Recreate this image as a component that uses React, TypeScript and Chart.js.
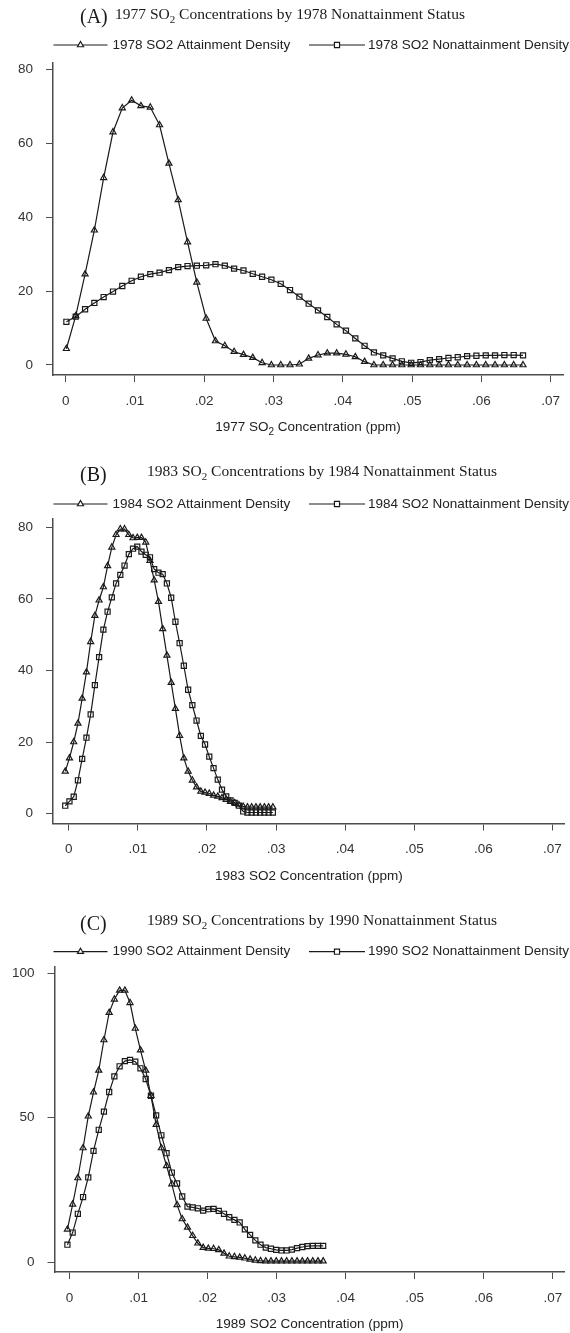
import React, { useEffect, useRef } from 'react';
import { Chart, registerables } from 'chart.js';

Chart.register(...registerables);

const SANS = '"Liberation Sans", Arial, Helvetica, sans-serif';
const SERIF = '"Liberation Serif", "Times New Roman", serif';
const INK = '#1a1a1a';
const AXIS = '#4d4d4d';

// ---- tick values / labels ----
const X_TICKS = [0, 0.01, 0.02, 0.03, 0.04, 0.05, 0.06, 0.07];
const X_TICK_LABELS = ['0', '.01', '.02', '.03', '.04', '.05', '.06', '.07'];
const Y_TICKS_AB = [0, 20, 40, 60, 80];
const Y_TICKS_C = [0, 50, 100];

// ---- Panel A: 1977 concentrations by 1978 status ----
const xA = [
  0.0001, 0.00145, 0.0028, 0.00414, 0.00548, 0.00683, 0.00817, 0.00952, 0.01086, 0.01221,
  0.01355, 0.0149, 0.01624, 0.01759, 0.01893, 0.02028, 0.02162, 0.02297, 0.02431, 0.02566,
  0.027, 0.02835, 0.02969, 0.03104, 0.03238, 0.03373, 0.03507, 0.03642, 0.03776, 0.03911,
  0.04045, 0.0418, 0.04314, 0.04449, 0.04583, 0.04718, 0.04852, 0.04987, 0.05121, 0.05256,
  0.0539, 0.05525, 0.05659, 0.05794, 0.05928, 0.06063, 0.06197, 0.06332, 0.06466, 0.06601,
];
const attainA = [
  4.4, 13.3, 24.6, 36.5, 50.7, 63.1, 69.6, 71.7, 70.2, 69.8,
  65.0, 54.6, 44.7, 33.3, 22.4, 12.6, 6.5, 5.2, 3.6, 2.8,
  2.0, 0.6, 0, 0, 0, 0.2, 1.8, 2.7, 3.2, 3.2,
  2.9, 2.2, 0.9, 0, 0, 0, 0, 0, 0, 0,
  0, 0, 0, 0, 0, 0, 0, 0, 0, 0,
];
const nonattainA = [
  11.7, 13.1, 15.1, 16.8, 18.4, 19.9, 21.4, 22.8, 23.9, 24.6,
  25.0, 25.7, 26.5, 26.8, 26.9, 27.0, 27.3, 26.9, 26.1, 25.6,
  24.7, 23.9, 23.1, 22.0, 20.3, 18.5, 16.6, 14.8, 13.0, 11.0,
  9.3, 7.2, 5.2, 3.4, 2.6, 1.8, 1.0, 0.6, 0.8, 1.3,
  1.6, 1.9, 2.1, 2.4, 2.5, 2.6, 2.6, 2.7, 2.7, 2.6,
];

// ---- Panel B: 1983 concentrations by 1984 status ----
const xB = [
  -0.0005, 0.00011, 0.00073, 0.00134, 0.00195, 0.00257, 0.00318, 0.00379, 0.0044, 0.00502,
  0.00563, 0.00624, 0.00686, 0.00747, 0.00808, 0.0087, 0.00931, 0.00992, 0.01053, 0.01115,
  0.01176, 0.01237, 0.01299, 0.0136, 0.01421, 0.01483, 0.01544, 0.01605, 0.01666, 0.01728,
  0.01789, 0.0185, 0.01912, 0.01973, 0.02034, 0.02096, 0.02157, 0.02218, 0.02279, 0.02341,
  0.02402, 0.02463, 0.02525, 0.02586, 0.02647, 0.02709, 0.0277, 0.02831, 0.02892, 0.02954,
];
const attainB = [
  11.8, 15.5, 20.0, 25.2, 32.2, 39.5, 48.0, 55.3, 59.6, 63.3,
  69.2, 74.4, 77.9, 79.5, 79.5, 77.9, 77.0, 77.1, 77.1, 75.8,
  70.7, 65.2, 59.2, 51.6, 44.2, 36.6, 29.3, 21.8, 15.5, 11.8,
  9.3, 7.4, 6.2, 5.9, 5.6, 5.1, 4.8, 4.4, 3.9, 3.3,
  3.0, 2.4, 2.0, 1.8, 1.8, 1.8, 1.8, 1.8, 1.8, 1.8,
];
const nonattainB = [
  2.2, 3.4, 4.7, 9.3, 15.3, 21.2, 27.7, 35.9, 43.7, 51.4,
  56.4, 60.4, 64.3, 66.7, 69.3, 72.5, 74.0, 74.6, 73.2, 72.3,
  71.6, 68.3, 67.3, 66.9, 64.3, 60.3, 53.6, 47.6, 41.3, 34.6,
  30.3, 26.0, 21.7, 19.3, 15.9, 12.7, 9.5, 6.7, 4.8, 3.7,
  3.0, 2.2, 0.6, 0.3, 0.3, 0.3, 0.3, 0.3, 0.3, 0.3,
];

// ---- Panel C: 1989 concentrations by 1990 status ----
const xC = [
  -0.0003, 0.00046, 0.00121, 0.00197, 0.00272, 0.00348, 0.00424, 0.00499, 0.00575, 0.0065,
  0.00726, 0.00802, 0.00877, 0.00953, 0.01028, 0.01104, 0.0118, 0.01255, 0.01331, 0.01406,
  0.01482, 0.01558, 0.01633, 0.01709, 0.01784, 0.0186, 0.01936, 0.02011, 0.02087, 0.02162,
  0.02238, 0.02314, 0.02389, 0.02465, 0.0254, 0.02616, 0.02692, 0.02767, 0.02843, 0.02918,
  0.02994, 0.0307, 0.03145, 0.03221, 0.03296, 0.03372, 0.03448, 0.03523, 0.03599, 0.03674,
];
const attainC = [
  11.3, 20.0, 29.1, 39.5, 50.5, 58.8, 66.4, 76.9, 86.4, 91.0,
  94.1, 94.1, 89.8, 80.9, 73.4, 66.4, 57.6, 47.6, 39.5, 33.3,
  27.0, 19.8, 14.9, 12.0, 9.1, 6.5, 5.0, 4.7, 4.6, 4.2,
  3.0, 2.0, 1.8, 1.6, 1.3, 0.9, 0.6, 0.4, 0.3, 0.3,
  0.3, 0.3, 0.3, 0.3, 0.3, 0.3, 0.3, 0.3, 0.3, 0.3,
];
const nonattainC = [
  6.0, 10.2, 16.7, 22.5, 29.3, 38.5, 45.8, 52.1, 58.9, 64.3,
  67.8, 69.6, 70.0, 69.4, 67.1, 63.4, 57.6, 50.8, 43.9, 37.7,
  31.0, 27.2, 22.7, 19.2, 18.9, 18.6, 17.8, 18.3, 18.4, 17.7,
  16.7, 15.5, 14.6, 13.7, 11.3, 9.4, 7.5, 6.0, 5.0, 4.6,
  4.2, 4.0, 4.0, 4.3, 4.8, 5.2, 5.5, 5.6, 5.6, 5.6,
];

type Seg = { t: string; sub?: boolean };

type PanelCfg = {
  top: number;
  height: number;
  chartLeft: number;
  chartRight: number;
  chartTop: number;
  chartBottom: number;
  xMin: number;
  xMax: number;
  yMin: number;
  yMax: number;
  yTicks: number[];
  xs: number[];
  attain: number[];
  nonattain: number[];
  letter: string;
  letterY: number;
  titleX: number;
  titleY: number;
  title: Seg[];
  legendY: number;
  legend: [string, string];
  xTitle: Seg[];
};

const PANELS: PanelCfg[] = [
  {
    top: 0, height: 440,
    chartLeft: 53, chartRight: 563, chartTop: 63, chartBottom: 375,
    xMin: -0.00183, xMax: 0.07178, yMin: -2.71, yMax: 81.8,
    yTicks: Y_TICKS_AB, xs: xA, attain: attainA, nonattain: nonattainA,
    letter: '(A)', letterY: 22.5, titleX: 115, titleY: 19,
    title: [{ t: '1977 SO' }, { t: '2', sub: true }, { t: ' Concentrations by 1978 Nonattainment Status' }],
    legendY: 45,
    legend: ['1978 SO2 Attainment Density', '1978 SO2 Nonattainment Density'],
    xTitle: [{ t: '1977 SO' }, { t: '2', sub: true }, { t: ' Concentration (ppm)' }],
  },
  {
    top: 440, height: 450,
    chartLeft: 53, chartRight: 565, chartTop: 78.3, chartBottom: 383.5,
    xMin: -0.00227, xMax: 0.07178, yMin: -2.77, yMax: 82.5,
    yTicks: Y_TICKS_AB, xs: xB, attain: attainB, nonattain: nonattainB,
    letter: '(B)', letterY: 41, titleX: 147, titleY: 36,
    title: [{ t: '1983 SO' }, { t: '2', sub: true }, { t: ' Concentrations by 1984 Nonattainment Status' }],
    legendY: 64,
    legend: ['1984 SO2 Attainment Density', '1984 SO2 Nonattainment Density'],
    xTitle: [{ t: '1983 SO2 Concentration (ppm)' }],
  },
  {
    top: 890, height: 443,
    chartLeft: 54.5, chartRight: 565, chartTop: 76.7, chartBottom: 382,
    xMin: -0.00217, xMax: 0.07174, yMin: -3.46, yMax: 102.3,
    yTicks: Y_TICKS_C, xs: xC, attain: attainC, nonattain: nonattainC,
    letter: '(C)', letterY: 40, titleX: 147, titleY: 35,
    title: [{ t: '1989 SO' }, { t: '2', sub: true }, { t: ' Concentrations by 1990 Nonattainment Status' }],
    legendY: 61.7,
    legend: ['1990 SO2 Attainment Density', '1990 SO2 Nonattainment Density'],
    xTitle: [{ t: '1989 SO2 Concentration (ppm)' }],
  },
];

const TRI_R = 3.5;
const SQ_R = 3.6;
const MARK_W = 1.2;

const LEGEND_ITEMS = [
  { x1: 53.5, x2: 107.5, mx: 80.5, tx: 112.5, style: 'triangle', r: TRI_R },
  { x1: 309, x2: 365, mx: 337, tx: 368, style: 'rect', r: SQ_R },
];

function markerPath(ctx: CanvasRenderingContext2D, style: string, x: number, y: number, r: number) {
  ctx.beginPath();
  if (style === 'triangle') {
    let rad = 0;
    ctx.moveTo(x + Math.sin(rad) * r, y - Math.cos(rad) * r);
    rad += (2 * Math.PI) / 3;
    ctx.lineTo(x + Math.sin(rad) * r, y - Math.cos(rad) * r);
    rad += (2 * Math.PI) / 3;
    ctx.lineTo(x + Math.sin(rad) * r, y - Math.cos(rad) * r);
    ctx.closePath();
  } else {
    const s = Math.SQRT1_2 * r;
    ctx.rect(x - s, y - s, 2 * s, 2 * s);
  }
}

function drawSegments(
  ctx: CanvasRenderingContext2D, segs: Seg[], x: number, y: number,
  size: number, subSize: number, subDrop: number, family: string, align: 'left' | 'center'
) {
  const widths = segs.map((s) => {
    ctx.font = `${s.sub ? subSize : size}px ${family}`;
    return ctx.measureText(s.t).width;
  });
  const total = widths.reduce((a, b) => a + b, 0);
  let cx = align === 'center' ? x - total / 2 : x;
  ctx.textAlign = 'left';
  ctx.textBaseline = 'alphabetic';
  segs.forEach((s, i) => {
    ctx.font = `${s.sub ? subSize : size}px ${family}`;
    ctx.fillText(s.t, cx, s.sub ? y + subDrop : y);
    cx += widths[i];
  });
}

function makeDecor(cfg: PanelCfg) {
  return {
    id: 'decor',
    afterDraw(chart: any) {
      const ctx: CanvasRenderingContext2D = chart.ctx;
      ctx.save();
      ctx.fillStyle = INK;
      ctx.textAlign = 'left';
      ctx.textBaseline = 'alphabetic';
      ctx.font = `20px ${SERIF}`;
      ctx.fillText(cfg.letter, 80, cfg.letterY);
      drawSegments(ctx, cfg.title, cfg.titleX, cfg.titleY, 15.5, 11, 4, SERIF, 'left');

      LEGEND_ITEMS.forEach((it, i) => {
        const ly = cfg.legendY;
        ctx.strokeStyle = INK;
        ctx.lineWidth = 1.2;
        ctx.beginPath();
        ctx.moveTo(it.x1, ly);
        ctx.lineTo(it.x2, ly);
        ctx.stroke();
        markerPath(ctx, it.style, it.mx, ly, it.r);
        ctx.fillStyle = '#ffffff';
        ctx.fill();
        ctx.lineWidth = MARK_W;
        ctx.stroke();
        ctx.fillStyle = '#222';
        ctx.font = `13.5px ${SANS}`;
        ctx.textBaseline = 'middle';
        ctx.fillText(cfg.legend[i], it.tx, ly);
      });

      const ca = chart.chartArea;
      ctx.fillStyle = '#222';
      drawSegments(ctx, cfg.xTitle, (ca.left + ca.right) / 2, ca.bottom + 56, 13.5, 10, 4, SANS, 'center');
      ctx.restore();
    },
  };
}

function Panel({ cfg }: { cfg: PanelCfg }) {
  const ref = useRef<HTMLCanvasElement>(null);
  useEffect(() => {
    if (!ref.current) return;
    const mkData = (ys: number[]) => cfg.xs.map((x, i) => ({ x, y: ys[i] }));
    const chart = new Chart(ref.current, {
      type: 'line',
      data: {
        datasets: [
          {
            label: cfg.legend[0],
            data: mkData(cfg.attain),
            borderColor: INK,
            borderWidth: 1.2,
            tension: 0,
            pointStyle: 'triangle',
            pointRadius: TRI_R,
            pointBorderWidth: MARK_W,
            pointBorderColor: INK,
            pointBackgroundColor: 'rgba(0,0,0,0)',
          },
          {
            label: cfg.legend[1],
            data: mkData(cfg.nonattain),
            borderColor: INK,
            borderWidth: 1.2,
            tension: 0,
            pointStyle: 'rect',
            pointRadius: SQ_R,
            pointBorderWidth: MARK_W,
            pointBorderColor: INK,
            pointBackgroundColor: 'rgba(0,0,0,0)',
          },
        ],
      },
      options: {
        animation: false,
        responsive: false,
        devicePixelRatio: 1,
        events: [],
        layout: {
          padding: { top: cfg.chartTop, right: 570 - cfg.chartRight, left: 0, bottom: 0 },
        },
        plugins: {
          legend: { display: false },
          title: { display: false },
          tooltip: { enabled: false },
        },
        scales: {
          x: {
            type: 'linear',
            position: 'bottom',
            min: cfg.xMin,
            max: cfg.xMax,
            afterBuildTicks: (s: any) => {
              s.ticks = X_TICKS.map((v) => ({ value: v }));
            },
            afterFit: (s: any) => {
              s.height = cfg.height - cfg.chartBottom;
              s.paddingLeft = 0;
              s.paddingRight = 0;
            },
            ticks: {
              callback: (_v: any, i: number) => X_TICK_LABELS[i],
              font: { family: SANS, size: 13.5 },
              color: '#333',
              padding: 11,
              maxRotation: 0,
              autoSkip: false,
            },
            grid: { drawOnChartArea: false, drawTicks: true, tickLength: 7, color: AXIS, lineWidth: 1 },
            border: { display: true, color: AXIS, width: 1.5 },
          },
          y: {
            type: 'linear',
            position: 'left',
            min: cfg.yMin,
            max: cfg.yMax,
            afterBuildTicks: (s: any) => {
              s.ticks = cfg.yTicks.map((v) => ({ value: v }));
            },
            afterFit: (s: any) => {
              s.width = cfg.chartLeft;
              s.paddingTop = 0;
              s.paddingBottom = 0;
            },
            ticks: {
              callback: (v: any) => String(v),
              font: { family: SANS, size: 13.5 },
              color: '#333',
              padding: 13,
              autoSkip: false,
            },
            grid: { drawOnChartArea: false, drawTicks: true, tickLength: 7, color: AXIS, lineWidth: 1 },
            border: { display: true, color: AXIS, width: 1.5 },
          },
        },
      },
      plugins: [makeDecor(cfg)],
    } as any);
    return () => chart.destroy();
  }, [cfg]);
  return (
    <canvas
      ref={ref}
      width={570}
      height={cfg.height}
      style={{ position: 'absolute', left: 0, top: cfg.top, width: 570, height: cfg.height, display: 'block' }}
    />
  );
}

export default function App() {
  return (
    <div style={{ position: 'absolute', left: 0, top: 0, width: 570, height: 1333, background: '#ffffff' }}>
      {PANELS.map((p) => (
        <Panel key={p.letter} cfg={p} />
      ))}
    </div>
  );
}
